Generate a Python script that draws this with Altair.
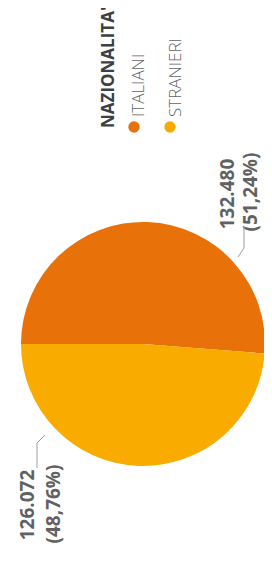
import math
import altair as alt
import pandas as pd

categories = ["ITALIANI", "STRANIERI"]
values = [132480, 126072]
value_labels = ["132.480", "126.072"]
pct_labels = ["(51,24%)", "(48,76%)"]
colors = ["#E8710A", "#F9AB00"]
legend_title = "NAZIONALITA'"

df = pd.DataFrame({"cat": categories, "value": values, "order": [0, 1]})

start = math.radians(270)
pie = alt.Chart(df).mark_arc(stroke=None).encode(
    theta=alt.Theta("value:Q", stack=True, scale=alt.Scale(range=[start, start + 2 * math.pi])),
    color=alt.Color("cat:N", scale=alt.Scale(domain=categories, range=colors), legend=None),
    order=alt.Order("order:Q"),
    x=alt.value(135), y=alt.value(336), radius=alt.value(122),
)

FONT = "Open Sans"
GRAY = "#5f6368"
LBL = "#616161"

def txt(s, x, y, size, weight, color=GRAY, align="center"):
    return alt.Chart(pd.DataFrame({"t": [s]})).mark_text(
        angle=270, align=align, baseline="middle", font=FONT, fontSize=size,
        fontWeight=weight, color=color,
    ).encode(text="t:N", x=alt.value(x), y=alt.value(y))

def seg(x1, y1, x2, y2):
    return alt.Chart(pd.DataFrame({"a": [0]})).mark_rule(color="#9e9e9e", strokeWidth=1).encode(
        x=alt.value(x1), y=alt.value(y1), x2=alt.value(x2), y2=alt.value(y2))

def dot(x, y, c):
    return alt.Chart(pd.DataFrame({"a": [0]})).mark_point(filled=True, shape="circle", size=130, color=c, opacity=1).encode(
        x=alt.value(x), y=alt.value(y))

layers = [
    pie,
    txt(value_labels[0], 220, 186, 19, 700, color=LBL),
    txt(pct_labels[0], 243, 184, 19, 700, color=LBL),
    txt(value_labels[1], 19.5, 497, 19, 700, color=LBL),
    txt(pct_labels[1], 45.5, 496, 19, 700, color=LBL),
    seg(236, 219, 236, 240), seg(236, 240, 230, 249),
    seg(29, 460, 29, 435), seg(29, 435, 37, 427),
    txt(legend_title, 100.5, 120, 17, 700, color="#3c4043", align="left"),
    dot(126, 119, colors[0]), dot(162, 119, colors[1]),
    txt(categories[0], 131, 109, 17, 300, align="left"),
    txt(categories[1], 168, 109, 17, 300, align="left"),
]

chart = alt.layer(*layers).properties(
    width=256, height=545, padding=0, autosize=alt.AutoSizeParams(type="none")
).configure_view(stroke=None)

chart.save("out.html", embed_options={"renderer": "svg", "actions": False})
